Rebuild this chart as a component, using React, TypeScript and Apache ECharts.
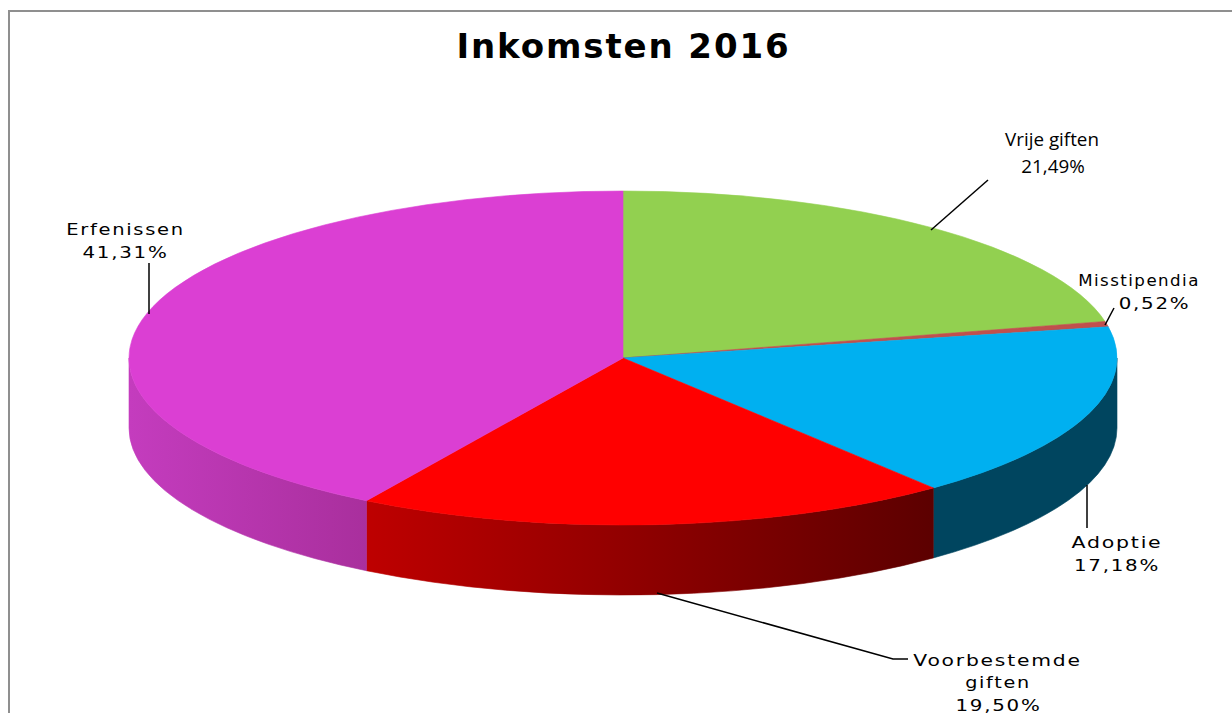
import React, { useEffect, useRef } from "react";
import * as echarts from "echarts";

const titleText = "Inkomsten 2016";
const categories = ["Vrije giften", "Misstipendia", "Adoptie", "Voorbestemde\ngiften", "Erfenissen"];
const shares = [21.49, 0.52, 17.18, 19.5, 41.31];
const topColors = ["#92D050", "#C0504D", "#00B0F0", "#FF0000", "#DB3FD3"];
const sideStops = [
  ["#6E9D3C", "#6E9D3C"],
  ["#903C3A", "#903C3A"],
  ["#00455F", "#00455F"],
  ["#BE0000", "#5C0000"],
  ["#C43CBE", "#A92F9D"],
];

const CX = 623;
const CY = 358;
const RX = 494;
const RY = 167;
const DEPTH = 70;

const labelBoxes = [
  { xs: [1052, 1053], y: 139, lh: 26.5, size: 18, family: '"Open Sans"', scales: [1.045, 1.045] },
  { xs: [1139, 1154.5], y: 281, lh: 22.5, size: 16, family: '"DejaVu Sans"', scales: [1.04, 1.24] },
  { xs: [1117, 1117], y: 542, lh: 23, size: 16, family: '"DejaVu Sans"', scales: [1.28, 1.24] },
  { xs: [997.5, 998, 998.5], y: 660, lh: 22.5, size: 16, family: '"DejaVu Sans"', scales: [1.27, 1.2, 1.24] },
  { xs: [125.5, 125.5], y: 229, lh: 23, size: 16, family: '"DejaVu Sans"', scales: [1.22, 1.24] },
];
const leaderLines = [
  [[988, 180], [931, 230]],
  [[1114, 308], [1105, 325]],
  [[1087, 485], [1087, 528]],
  [[657, 593], [893, 659], [908, 659]],
  [[149, 263], [149, 314]],
];

const total = shares.reduce((a, b) => a + b, 0);
const starts = shares.map((_, i) => shares.slice(0, i).reduce((a, b) => a + b, 0));

const pt = (deg: number, dy = 0) => {
  const r = (deg * Math.PI) / 180;
  return [CX + RX * Math.sin(r), CY - RY * Math.cos(r) + dy];
};

const topPath = (a: number, b: number) => {
  const p = pt(a);
  const q = pt(b);
  const large = b - a > 180 ? 1 : 0;
  return `M${CX} ${CY}L${p[0]} ${p[1]}A${RX} ${RY} 0 ${large} 1 ${q[0]} ${q[1]}Z`;
};

const sidePath = (a0: number, b0: number) => {
  const a = Math.max(a0, 90);
  const b = Math.min(b0, 270);
  if (b <= a) return null;
  const p = pt(a);
  const q = pt(b);
  const q2 = pt(b, DEPTH);
  const p2 = pt(a, DEPTH);
  return `M${p[0]} ${p[1]}A${RX} ${RY} 0 0 1 ${q[0]} ${q[1]}L${q2[0]} ${q2[1]}A${RX} ${RY} 0 0 0 ${p2[0]} ${p2[1]}Z`;
};

const pctText = (v: number) => v.toFixed(2).replace(".", ",") + "%";

export default function App() {
  const ref = useRef<HTMLDivElement>(null);
  useEffect(() => {
    const chart = echarts.init(ref.current!, undefined, { renderer: "svg" });
    chart.setOption({
      animation: false,
      backgroundColor: "#FFFFFF",
      title: {
        text: titleText,
        left: 618.5,
        top: 24,
        textAlign: "center",
        textStyle: { fontFamily: '"DejaVu Sans"', fontWeight: "bold", fontSize: 34, color: "#000000" },
      },
      graphic: [
        {
          type: "polyline",
          shape: { points: [[9, 713], [9, 11], [1232, 11]] },
          style: { stroke: "#8F8F8F", lineWidth: 2, fill: "none" },
        },
      ],
      series: [
        {
          type: "custom",
          coordinateSystem: "none",
          data: categories.map((name, i) => ({ name, value: [shares[i]] })),
          renderItem: (params: any, api: any) => {
            const i = params.dataIndex;
            const v = api.value(0);
            const a = (starts[i] / total) * 360;
            const b = a + (v / total) * 360;
            const children: any[] = [];
            const side = sidePath(a, b);
            if (side) {
              const grad = new echarts.graphic.LinearGradient(0, 0, 1, 0, [
                { offset: 0, color: sideStops[i][0] },
                { offset: 1, color: sideStops[i][1] },
              ]);
              children.push({
                type: "path",
                shape: { pathData: side },
                style: { fill: grad, stroke: grad, lineWidth: 0.6 },
              });
            }
            children.push({
              type: "path",
              shape: { pathData: topPath(a, b) },
              style: { fill: topColors[i], stroke: topColors[i], lineWidth: 0.6 },
            });
            children.push({
              type: "polyline",
              shape: { points: leaderLines[i] },
              style: { stroke: "#000000", lineWidth: 1.5, fill: "none" },
            });
            const box = labelBoxes[i];
            const lines = (categories[i] + "\n" + pctText(v)).split("\n");
            lines.forEach((line, k) => {
              children.push({
                type: "text",
                x: box.xs[k],
                y: box.y + k * box.lh,
                scaleX: box.scales[k],
                style: {
                  text: line,
                  fontFamily: box.family,
                  fontSize: box.size,
                  fill: "#000000",
                  align: "center",
                  verticalAlign: "middle",
                },
              });
            });
            return { type: "group", children };
          },
        },
      ],
    });
    return () => chart.dispose();
  }, []);
  return (
    <>
      <style>{`#pie3d text{letter-spacing:1.4px}#pie3d text[style*="Open Sans"]{letter-spacing:0}#pie3d text[style*="bold"]{letter-spacing:1.9px}`}</style>
      <div
        id="pie3d"
        ref={ref}
        style={{ position: "fixed", left: 0, top: 0, width: 1232, height: 713 }}
      />
    </>
  );
}
